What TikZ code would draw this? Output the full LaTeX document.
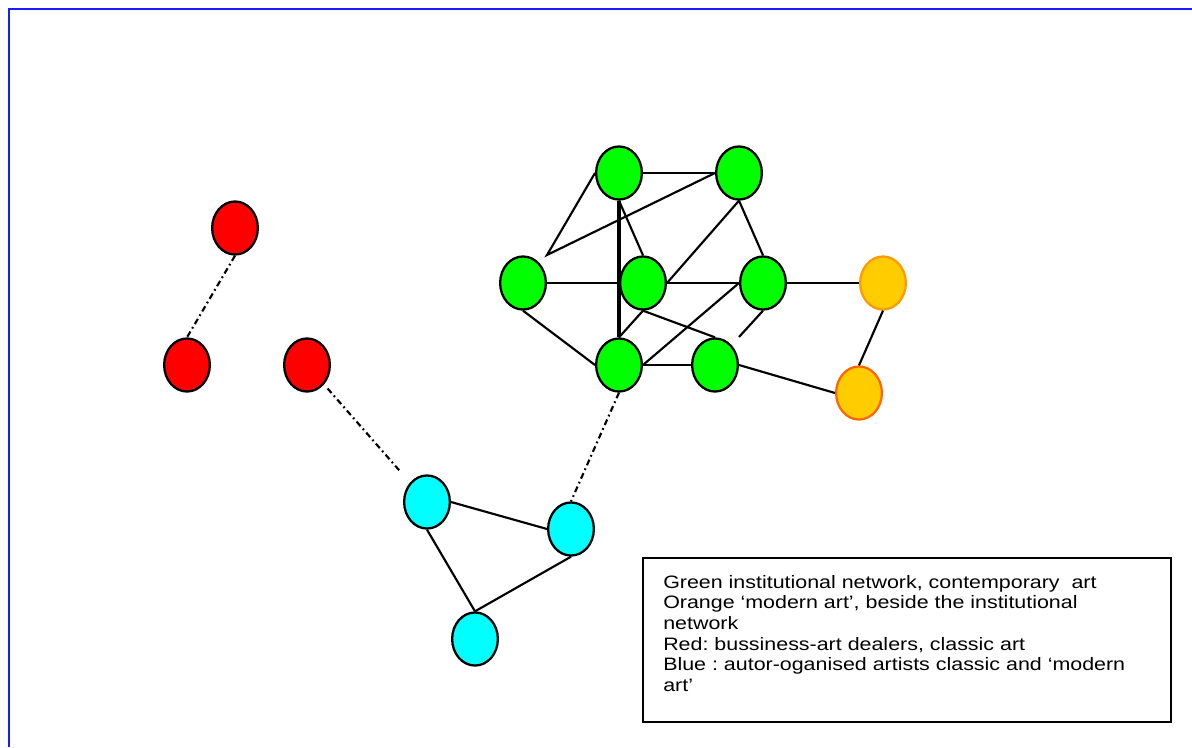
\documentclass[tikz,border=0pt]{standalone}
\usepackage{fontspec}
\setmainfont{Liberation Sans}
\newfontfamily\legendfont[FakeStretch=1.19]{Liberation Sans}
\usetikzlibrary{shapes.geometric}
\definecolor{gfill}{HTML}{00FF00}
\definecolor{rfill}{HTML}{FF0000}
\definecolor{cfill}{HTML}{00FFFF}
\definecolor{ofill}{HTML}{FFCC00}
\definecolor{oline}{HTML}{FF9900}
\definecolor{oline2}{HTML}{FF6600}
\definecolor{frameblue}{HTML}{1A1AFF}
\tikzset{
  vtx/.style={ellipse, draw=black, line width=1.7pt, minimum width=34.3pt, minimum height=39.8pt, inner sep=0pt},
  gv/.style={vtx, fill=gfill},
  rv/.style={vtx, fill=rfill},
  cv/.style={vtx, fill=cfill},
  ov/.style={vtx, fill=ofill, draw=oline},
  edge/.style={black, line width=1.6pt},
  thickedge/.style={black, line width=2.6pt},
  dd/.style={black, line width=1.6pt, dash pattern=on 4.5pt off 2.6pt on 1.3pt off 2.6pt},
  frame/.style={frameblue, line width=1.6pt}
}
\begin{document}
\frenchspacing
\begin{tikzpicture}[x=0.75pt,y=-0.75pt]
\useasboundingbox (0,0) rectangle (1192,747);
\draw[frame] (9,747) -- (9,9) -- (1192,9);
% green
\node[gv] (G1) at (619,173) {};
\node[gv] (G2) at (739,173) {};
\node[gv] (G3) at (523,283) {};
\node[gv] (G4) at (643,283) {};
\node[gv] (G5) at (763,283) {};
\node[gv] (G6) at (619,365) {};
\node[gv] (G7) at (715,365) {};
% orange
\node[ov] (O1) at (883,283) {};
\node[ov, draw=oline2] (O2) at (859,393) {};
% red
\node[rv] (R1) at (235,228) {};
\node[rv] (R2) at (187,365) {};
\node[rv] (R3) at (307,365) {};
% cyan
\node[cv] (B1) at (427,502) {};
\node[cv] (B2) at (571,529) {};
\node[cv] (B3) at (475,639) {};
% free points
\coordinate (P) at (547,255);
\coordinate (S) at (739,337);
% green edges
\draw[edge] (G1.east) -- (G2.west);
\draw[edge] (G1.west) -- (P) -- (G2.west);
\draw[thickedge] (G1.south) -- (G6.north);
\draw[edge] (G1.south) -- (G4.north);
\draw[edge] (G2.south) -- (G4.east);
\draw[edge] (G2.south) -- (G5.north);
\draw[edge] (G3.east) -- (G4.west);
\draw[edge] (G4.east) -- (G5.west);
\draw[edge] (G5.east) -- (O1.west);
\draw[edge] (G3.south) -- (G6.west);
\draw[edge] (G4.south) -- (G6.north);
\draw[edge] (G4.south) -- (G7.north);
\draw[edge] (G5.west) -- (G6.east);
\draw[edge] (G5.south) -- (S);
\draw[edge] (G6.east) -- (G7.west);
\draw[edge] (G7.east) -- (O2.west);
\draw[edge] (O1.south) -- (O2.north);
% cyan edges
\draw[edge] (B1.east) -- (B2.west);
\draw[edge] (B1.south) -- (B3.north);
\draw[edge] (B2.south) -- (B3.north);
% dash-dot links
\draw[dd] (G6.south) -- (B2.north);
\draw[dd] (R1.south) -- (R2.north);
\draw[dd, shorten <=4pt, shorten >=12pt] (R3) -- (B1);
% legend
\node[draw=black, line width=1.3pt, minimum width=396pt, minimum height=123pt, inner sep=0pt, anchor=north west] (box) at (642,557) {};
\node[anchor=north west, inner sep=0pt, align=left, font=\legendfont\fontsize{13.5}{15.45}\selectfont] (legend) at (663,575)
{Green institutional network, contemporary~ art\\
Orange ‘modern art’, beside the institutional\\
network\\
Red: bussiness-art dealers, classic art\\
Blue : autor-oganised artists classic and ‘modern\\
art’};
\end{tikzpicture}
\end{document}
